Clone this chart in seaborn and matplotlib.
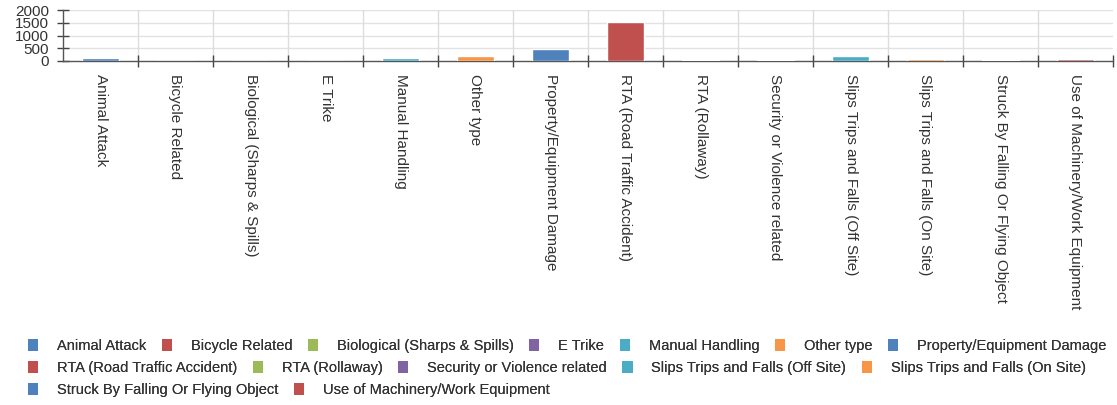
import matplotlib
matplotlib.use("Agg")
import matplotlib.pyplot as plt
import matplotlib.transforms as mtransforms
from matplotlib.patches import Patch
import seaborn as sns
import numpy as np

categories = [
    "Animal Attack",
    "Bicycle Related",
    "Biological (Sharps & Spills)",
    "E Trike",
    "Manual Handling",
    "Other type",
    "Property/Equipment Damage",
    "RTA (Road Traffic Accident)",
    "RTA (Rollaway)",
    "Security or Violence related",
    "Slips Trips and Falls (Off Site)",
    "Slips Trips and Falls (On Site)",
    "Struck By Falling Or Flying Object",
    "Use of Machinery/Work Equipment",
]
counts = [130, 0, 0, 0, 115, 185, 480, 1540, 20, 30, 185, 60, 45, 90]
colors = [
    "#4F81BD", "#C0504D", "#9BBB59", "#8064A2", "#4BACC6", "#F79646", "#4F81BD",
    "#C0504D", "#9BBB59", "#8064A2", "#4BACC6", "#F79646", "#4F81BD", "#C0504D",
]
y_ticks = [0, 500, 1000, 1500, 2000]
legend_rows = [7, 5, 2]

sns.set_style("white")
plt.rcParams["font.family"] = ["Liberation Sans", "DejaVu Sans"]

fig = plt.figure(figsize=(11.17, 4.05), dpi=100)
ax = fig.add_axes([63 / 1117, 1 - 61 / 405, 1050 / 1117, 51 / 405])

sns.barplot(x=categories, y=counts, hue=categories, palette=colors,
            dodge=False, width=0.5, legend=False, ax=ax, saturation=1,
            zorder=3)

ax.set_xlim(-0.5, len(categories) - 0.5)
ax.set_ylim(0, 2000)
ax.set_yticks(y_ticks)
ax.set_yticklabels([str(v) for v in y_ticks], fontsize=11, color="#333333")
# value labels sit slightly below their gridlines
shift = mtransforms.ScaledTranslation(0, -3.5 / 100, fig.dpi_scale_trans)
for lbl in ax.get_yticklabels():
    lbl.set_transform(lbl.get_transform() + shift)

# category labels at centres, tick marks at category boundaries
ax.set_xticks(range(len(categories)))
ax.set_xticklabels(categories, rotation=-90, fontsize=11, color="#333333",
                   va="top", ha="center")
ax.tick_params(axis="x", which="major", bottom=True, length=0, pad=9)
bounds = np.arange(0.5, len(categories) - 0.5, 1.0)
ax.set_xticks(list(bounds) + [len(categories) - 0.5], minor=True)
ax.tick_params(axis="x", which="minor", bottom=True, direction="inout",
               length=8, width=1, color="#444444")
ax.tick_params(axis="y", left=True, direction="inout", length=8, width=1,
               color="#444444", pad=6)

ax.grid(False)
for y in y_ticks[1:]:
    ax.axhline(y, color="#e2e2e2", lw=1, zorder=0)
for b in bounds:
    ax.axvline(b, color="#dddddd", lw=1, zorder=0)

for s in ["top", "right"]:
    ax.spines[s].set_visible(False)
for s in ["left", "bottom"]:
    ax.spines[s].set_color("#555555")
    ax.spines[s].set_linewidth(1)
    ax.spines[s].set_zorder(2)

# legend laid out in flowing rows
handles = [Patch(facecolor=c, edgecolor="none") for c in colors]
start = 0
row_y = [346, 368, 390]
for n, yy in zip(legend_rows, row_y):
    leg = fig.legend(handles[start:start + n], categories[start:start + n],
                     ncol=n, loc="center left",
                     bbox_to_anchor=(28 / 1117, 1 - yy / 405),
                     frameon=False, fontsize=10.5, handlelength=0.7,
                     handleheight=0.8, handletextpad=1.3, columnspacing=1.05,
                     borderpad=0, borderaxespad=0, labelcolor="#333333")
    fig.add_artist(leg)
    start += n

fig.savefig("out.png", dpi=100, facecolor="white")
